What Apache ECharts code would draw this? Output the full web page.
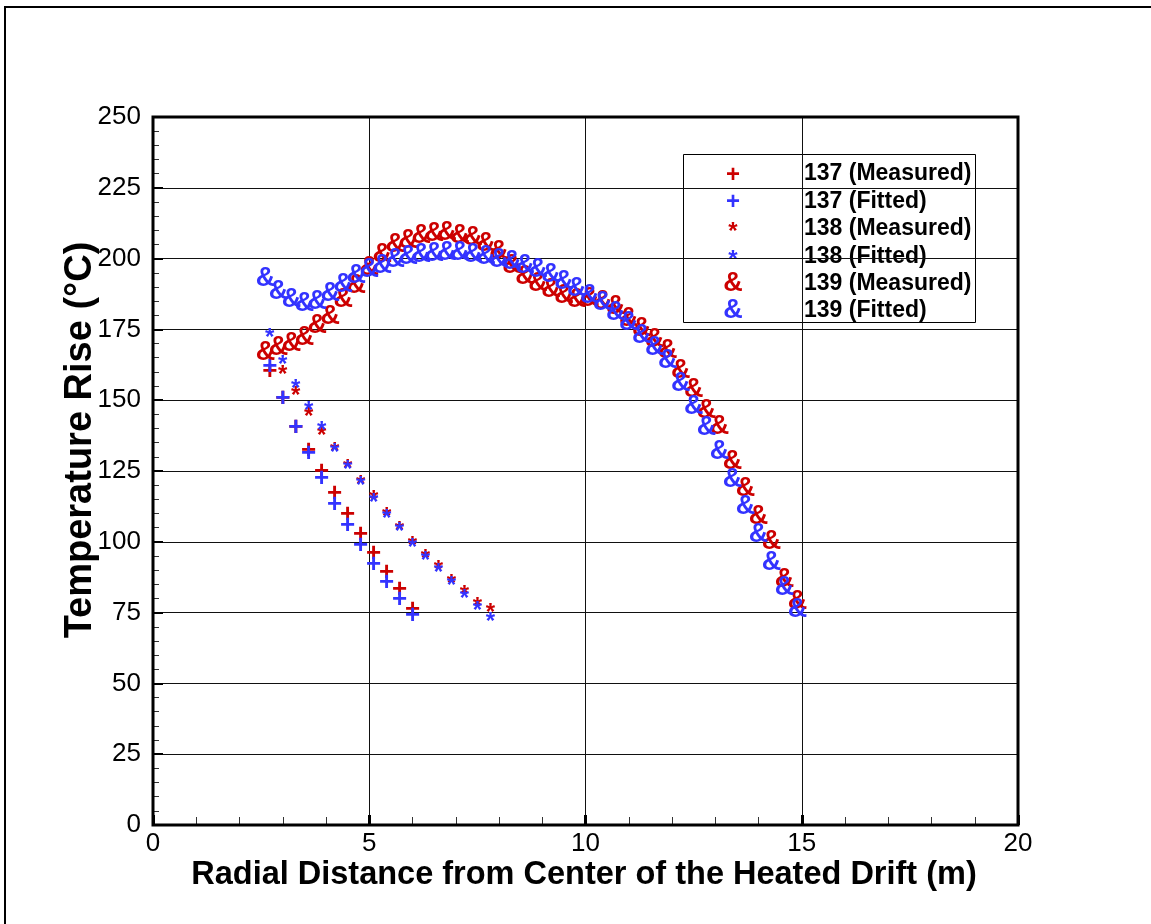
<!DOCTYPE html>
<html>
<head>
<meta charset="utf-8">
<script src="https://cdn.jsdelivr.net/npm/echarts@6/dist/echarts.min.js"></script>
<style>
  html, body { margin: 0; padding: 0; background: #fff; }
  #chart { width: 1151px; height: 924px; }
</style>
</head>
<body>
<div id="chart"></div>
<script>
// radial distance (m) and temperature rise (°C)
const x137 = [2.7, 3.0, 3.3, 3.6, 3.9, 4.2, 4.5, 4.8, 5.1, 5.4, 5.7, 6.0];
const meas137 = [160.5, 151, 140.5, 132.5, 125, 117.4, 110, 102.8, 96.2, 89.5, 83.3, 76.5];
const fit137 = [162, 151, 140.6, 131.5, 122.5, 113.5, 105.9, 98.9, 92.3, 85.9, 79.8, 74.2];

const x138m = [3.0, 3.3, 3.6, 3.9, 4.2, 4.5, 4.8, 5.1, 5.4, 5.7, 6.0, 6.3, 6.6, 6.9, 7.2, 7.5, 7.8];
const meas138 = [160.7, 153, 145.6, 138.9, 133.5, 127.5, 121.7, 116.5, 110.5, 105.6, 100, 95.7, 91.5, 86.7, 83, 78.6, 76.5];
const x138f = [2.7, 3.0, 3.3, 3.6, 3.9, 4.2, 4.5, 4.8, 5.1, 5.4, 5.7, 6.0, 6.3, 6.6, 6.9, 7.2, 7.5, 7.8];
const fit138 = [173.6, 164.2, 155.7, 147.7, 140.6, 133, 127, 121.3, 115.5, 109.8, 105, 99.5, 95, 90.6, 85.9, 81.4, 77.1, 73.2];

const x139 = [2.6, 2.9, 3.2, 3.5, 3.8, 4.1, 4.4, 4.7, 5.0, 5.3, 5.6, 5.9, 6.2, 6.5,
              6.8, 7.1, 7.4, 7.7, 8.0, 8.3, 8.6, 8.9, 9.2, 9.5, 9.8, 10.1, 10.4, 10.7,
              11.0, 11.3, 11.6, 11.9, 12.2, 12.5, 12.8, 13.1, 13.4, 13.7, 14.0, 14.3, 14.6, 14.9];
const meas139 = [167, 168.5, 170, 172, 176.5, 179.5, 185.5, 190.5, 197, 201.3, 204.8, 206.3, 208.3, 208.9,
                 209.2, 208.3, 207.5, 205.3, 202.4, 197.5, 193.6, 191.2, 189, 187, 185.5, 186, 184.7, 183,
                 179, 175.3, 171.3, 167.7, 160.5, 153.6, 146.5, 140.6, 128.5, 118.8, 108.8, 100, 86.5, 78.8];
const fit139 = [193, 188.5, 185.5, 184, 185, 187.5, 191, 194, 196, 197.7, 199.5, 200.6, 201.5, 201.8,
                202, 202, 201.5, 200.6, 199.8, 198.9, 197.5, 196, 194.2, 192, 189.5, 187, 184.5, 181,
                177.5, 173, 168.5, 164, 156, 147.7, 140.3, 131.8, 122, 112.5, 102.5, 92.5, 84, 76];

const seriesNames = ['137 (Measured)', '137 (Fitted)', '138 (Measured)', '138 (Fitted)', '139 (Measured)', '139 (Fitted)'];

const RED = '#cc0000';
const BLUE = '#3333ff';
const FONT = '"Liberation Sans", Arial, sans-serif';

// glyph marks: text is centred on each point, offsets nudge the ink onto it
const glyphs = {
  plus: { text: '+', size: 26, weight: 'bold', offset: [0, 1] },
  star: { text: '*', size: 24, weight: 'bold', offset: [0, 5] },
  amp: { text: '&', size: 27, weight: 'bold', offset: [0, 0] }
};

function zip(xs, ys) {
  return xs.map((x, i) => [x, ys[i]]);
}

function glyphSeries(name, xs, ys, g, color) {
  return {
    name: name,
    type: 'scatter',
    data: zip(xs, ys),
    symbol: 'circle',
    symbolSize: 0.1,
    itemStyle: { color: color, opacity: 1 },
    label: {
      show: true,
      position: 'inside',
      formatter: g.text,
      color: color,
      fontSize: g.size,
      fontWeight: g.weight,
      fontFamily: FONT,
      textBorderWidth: 0,
      textBorderColor: 'transparent',
      offset: g.offset
    },
    emphasis: { disabled: true },
    z: 3
  };
}

let chart = echarts.init(document.getElementById('chart'));

// hand drawn legend box, like the original
const legendRows = [
  { g: glyphs.plus, color: RED },
  { g: glyphs.plus, color: BLUE },
  { g: glyphs.star, color: RED },
  { g: glyphs.star, color: BLUE },
  { g: glyphs.amp, color: RED },
  { g: glyphs.amp, color: BLUE }
];
let legendItems = [{
  type: 'rect',
  shape: { x: 683.5, y: 154.5, width: 292, height: 168 },
  style: { fill: '#fff', stroke: '#000', lineWidth: 1 }
}];
legendRows.forEach((row, i) => {
  let y = 174 + i * 27.4;
  legendItems.push({
    type: 'text',
    x: 733 + row.g.offset[0], y: y + row.g.offset[1] - (row.g === glyphs.star ? 1 : 0),
    style: {
      text: row.g.text, fill: row.color,
      font: row.g.weight + ' ' + (row.g === glyphs.amp ? 27 : 24) + 'px ' + FONT,
      textAlign: 'center', textVerticalAlign: 'middle'
    }
  });
  legendItems.push({
    type: 'text',
    x: 804, y: y,
    style: {
      text: seriesNames[i], fill: '#000',
      font: 'bold 23px ' + FONT,
      textAlign: 'left', textVerticalAlign: 'middle'
    }
  });
});

let option = {
  animation: false,
  backgroundColor: '#fff',
  grid: { left: 153, top: 117, width: 865, height: 708, show: true, borderColor: '#000', borderWidth: 3, backgroundColor: 'transparent', z: 4 },
  xAxis: {
    type: 'value', min: 0, max: 20, interval: 5,
    axisLine: { show: false },
    axisTick: { show: true, inside: true, length: 10, lineStyle: { color: '#000', width: 3 } },
    minorTick: { show: true, splitNumber: 5, length: 8, lineStyle: { color: '#333', width: 1 } },
    splitLine: { show: true, lineStyle: { color: '#111', width: 1 } },
    axisLabel: { color: '#000', fontSize: 26, fontFamily: FONT, margin: 6 }
  },
  yAxis: {
    type: 'value', min: 0, max: 250, interval: 25,
    axisLine: { show: false },
    axisTick: { show: true, inside: true, length: 10, lineStyle: { color: '#000', width: 2 } },
    minorTick: { show: true, splitNumber: 5, length: 6, lineStyle: { color: '#333', width: 1 } },
    splitLine: { show: true, lineStyle: { color: '#111', width: 1 } },
    axisLabel: { color: '#000', fontSize: 26, fontFamily: FONT, margin: 12 }
  },
  series: [
    glyphSeries(seriesNames[0], x137, meas137, glyphs.plus, RED),
    glyphSeries(seriesNames[1], x137, fit137, glyphs.plus, BLUE),
    glyphSeries(seriesNames[2], x138m, meas138, glyphs.star, RED),
    glyphSeries(seriesNames[3], x138f, fit138, glyphs.star, BLUE),
    glyphSeries(seriesNames[4], x139, meas139, glyphs.amp, RED),
    glyphSeries(seriesNames[5], x139, fit139, glyphs.amp, BLUE)
  ],
  graphic: [
    // outer page frame (top and left edges show)
    { type: 'polyline', shape: { points: [[5, 930], [5, 7], [1160, 7]] }, style: { stroke: '#000', lineWidth: 2, fill: null } },
    {
      type: 'text', x: 584, y: 875,
      style: { text: 'Radial Distance from Center of the Heated Drift (m)', fill: '#000', font: 'bold 32.5px ' + FONT, textAlign: 'center', textVerticalAlign: 'middle' }
    },
    {
      type: 'text', x: 81, y: 440, rotation: Math.PI / 2,
      style: { text: 'Temperature Rise (°C)', fill: '#000', font: 'bold 38px ' + FONT, textAlign: 'center', textVerticalAlign: 'middle' }
    },
    { type: 'group', z: 10, children: legendItems }
  ]
};

option && chart.setOption(option);
</script>
</body>
</html>
